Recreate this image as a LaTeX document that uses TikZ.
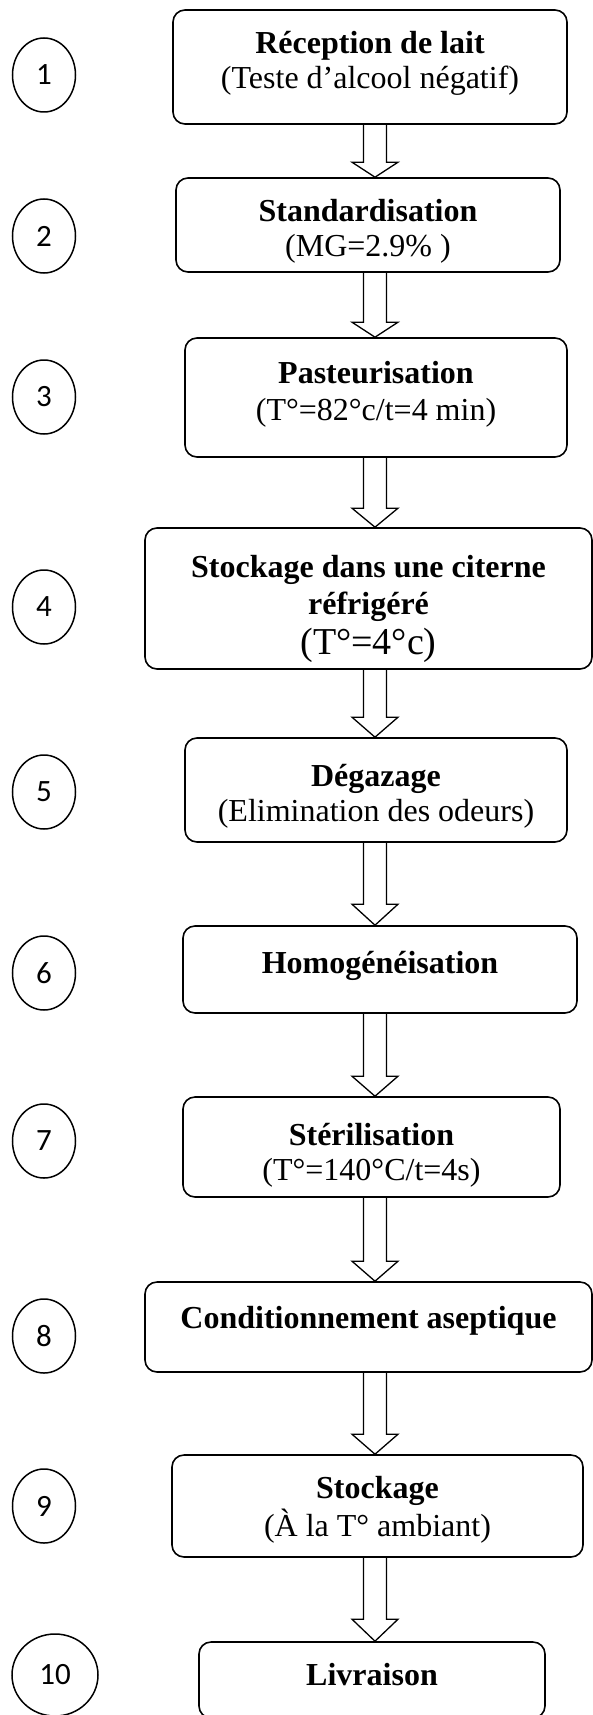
\documentclass[tikz,border=0pt]{standalone}
\usepackage{fontspec}
\setmainfont{Liberation Serif}
\newfontfamily\numfont{Carlito}
\usepackage{tikz}
\usetikzlibrary{shapes.geometric, positioning, calc}
\tikzset{
    stepbox/.style={draw, line width=1.6pt, rounded corners=12pt, inner sep=0pt},
    steptext/.style={align=center, inner sep=0pt, font=\fontsize{32}{35}\selectfont},
    stepnum/.style={ellipse, draw, line width=1.5pt, inner sep=0pt, minimum width=63pt, minimum height=74pt, font=\numfont\fontsize{31}{33}\selectfont},
    blockarr/.style={draw, line width=1.3pt, line join=miter}
}
% hollow arrow: from box, to box, head length
\newcommand{\flowarrow}[3]{%
    \draw[blockarr] let \p1=(#1.south -| ax), \p2=(#2.north -| ax) in
        (\x1-11.5pt,\y1) -- (\x2-11.5pt,\y2+#3pt) -- (\x2-23pt,\y2+#3pt) -- (\x2,\y2)
        -- (\x2+23pt,\y2+#3pt) -- (\x2+11.5pt,\y2+#3pt) -- (\x1+11.5pt,\y1);}

\begin{document}
\begin{tikzpicture}[x=1pt, y=1pt]
    \useasboundingbox (0,0) rectangle (593,-1715);
    \coordinate (ax) at (375,0);

    % steps
    \node[stepbox, minimum width=394pt, minimum height=114pt] (b1) at (370,-67) {};
    \node[steptext, below=22pt of b1.north] (t1) {\textbf{Réception de lait}\\(Teste d’alcool négatif)};

    \node[stepbox, minimum width=384pt, minimum height=94pt] (b2) at (368,-225) {};
    \node[steptext, below=22pt of b2.north] (t2) {\textbf{Standardisation}\\(MG=2.9\% )};

    \node[stepbox, minimum width=382pt, minimum height=119pt] (b3) at (376,-397.5) {};
    \node[steptext, below=24pt of b3.north] (t3) {\textbf{Pasteurisation}\\[2pt](T°=82°c/t=4 min)};

    \node[stepbox, minimum width=447pt, minimum height=141pt] (b4) at (368.5,-598.5) {};
    \node[steptext, below=28pt of b4.north] (t4) {\textbf{Stockage dans une citerne}\\[2pt]\textbf{réfrigéré}\\[5pt]{\fontsize{38}{40}\selectfont (T°=4°c)}};

    \node[stepbox, minimum width=382pt, minimum height=104pt] (b5) at (376,-790) {};
    \node[steptext, below=27pt of b5.north] (t5) {\textbf{Dégazage}\\(Elimination des odeurs)};

    \node[stepbox, minimum width=394pt, minimum height=87pt] (b6) at (380,-969.5) {};
    \node[steptext, below=26pt of b6.north] (t6) {\textbf{Homogénéisation}};

    \node[stepbox, minimum width=377pt, minimum height=100pt] (b7) at (371.5,-1147) {};
    \node[steptext, below=27pt of b7.north] (t7) {\textbf{Stérilisation}\\(T°=140°C/t=4s)};

    \node[stepbox, minimum width=447pt, minimum height=90pt] (b8) at (368.5,-1327) {};
    \node[steptext, below=25pt of b8.north] (t8) {\textbf{Conditionnement aseptique}};

    \node[stepbox, minimum width=411pt, minimum height=102pt] (b9) at (377.5,-1506) {};
    \node[steptext, below=22pt of b9.north] (t9) {\textbf{Stockage}\\[3pt](À la T° ambiant)};

    \node[stepbox, minimum width=346pt, minimum height=76pt] (b10) at (372,-1680) {};
    \node[steptext, below=22pt of b10.north] (t10) {\textbf{Livraison}};

    % numbers
    \foreach \n/\y in {1/75, 2/236, 3/397, 4/607, 5/792, 6/973, 7/1141, 8/1336, 9/1506}
        \node[stepnum] (c\n) at (44,-\y) {\n};
    \node[stepnum, minimum width=86pt, minimum height=82pt] (c10) at (55,-1675) {10};

    % arrows
    \foreach \a/\b/\h in {b1/b2/15, b2/b3/15, b3/b4/19, b4/b5/20, b5/b6/21, b6/b7/20, b7/b8/20, b8/b9/20, b9/b10/22}
        {\flowarrow{\a}{\b}{\h}}
\end{tikzpicture}
\end{document}
